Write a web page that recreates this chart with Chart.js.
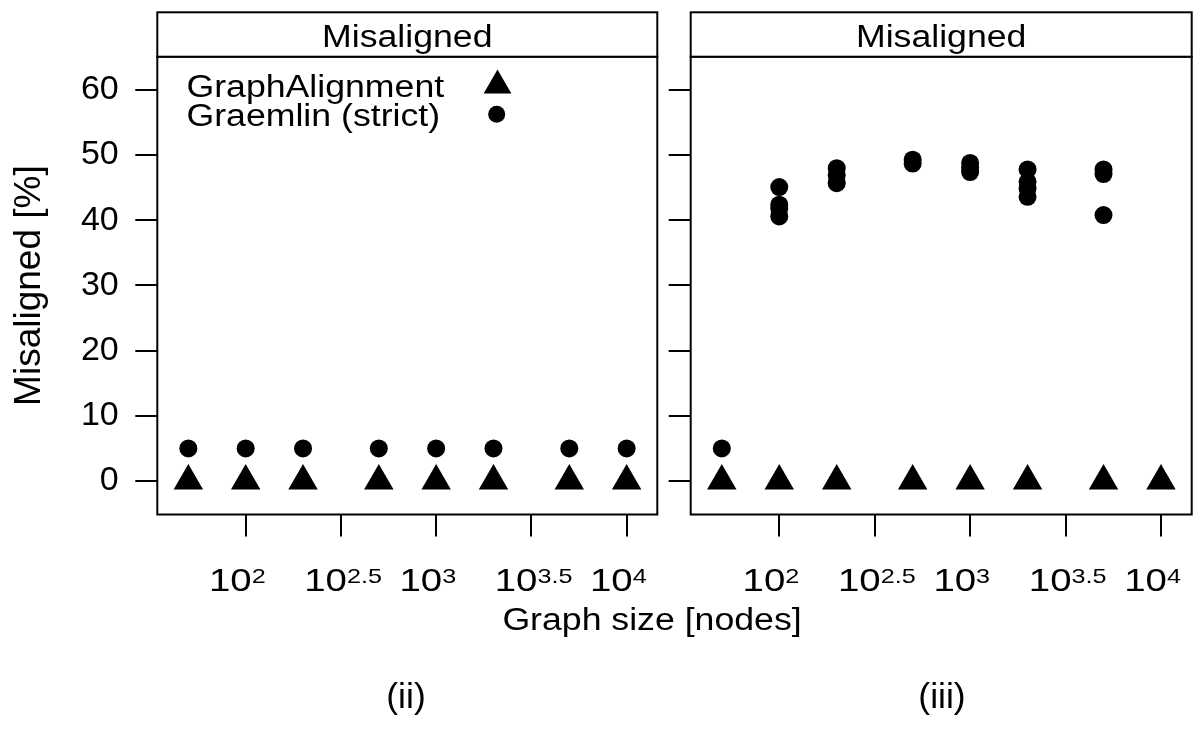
<!DOCTYPE html>
<html>
<head>
<meta charset="utf-8">
<script src="https://cdn.jsdelivr.net/npm/chart.js@4/dist/chart.umd.min.js"></script>
<style>
  body { margin: 0; background: #fff; }
  #wrap { position: relative; width: 1200px; height: 729px; overflow: hidden; font-family: "Liberation Sans", Arial, Helvetica, sans-serif; }
  canvas { position: absolute; top: 0; }
  .lbl { position: absolute; white-space: nowrap; color: #000; line-height: 1; }
  #xTitle { left: 652px; top: 604px; font-size: 31px; transform: translateX(-50%) scaleX(1.15); }
  #capLeft { left: 406px; top: 679px; font-size: 35.5px; transform: translateX(-50%); }
  #capRight { left: 942px; top: 679px; font-size: 35.5px; transform: translateX(-50%); }
</style>
</head>
<body>
<div id="wrap">
  <canvas id="panelLeft" width="665" height="729" style="left:0"></canvas>
  <canvas id="panelRight" width="535" height="729" style="left:665px"></canvas>
  <div class="lbl" id="xTitle">Graph size [nodes]</div>
  <div class="lbl" id="capLeft">(ii)</div>
  <div class="lbl" id="capRight">(iii)</div>
</div>
<script>
var family = '"Liberation Sans", Arial, Helvetica, sans-serif';

// graph sizes [nodes]
var sizes = [50, 100, 200, 500, 1000, 2000, 5000, 10000];

// panel (ii)
var leftGraphAlignment = [0, 0, 0, 0, 0, 0, 0, 0];
var leftGraemlin = [5, 5, 5, 5, 5, 5, 5, 5];

// panel (iii)
var rightGraphAlignment = [0, 0, 0, 0, 0, 0, 0, 0];
var rightGraemlinSizes = [50, 100, 100, 100, 100, 200, 200, 200, 500, 500,
  1000, 1000, 1000, 2000, 2000, 2000, 2000, 5000, 5000, 5000];
var rightGraemlin = [5, 45.1, 42.4, 41.8, 40.6, 48.0, 46.9, 45.7, 49.3, 48.7,
  48.8, 48.1, 47.4, 47.8, 45.9, 44.9, 43.6, 47.8, 47.1, 40.8];

var seriesNames = ["GraphAlignment", "Graemlin (strict)"];
var stripLabel = "Misaligned";
var yTitle = "Misaligned [%]";
var yTicks = [0, 10, 20, 30, 40, 50, 60];
var xTickExponents = [2, 2.5, 3, 3.5, 4];

function pts(xs, ys) {
  return xs.map(function (x, i) { return { x: x, y: ys[i] }; });
}

function triangles(xs, ys) {
  return {
    label: seriesNames[0],
    data: pts(xs, ys),
    pointStyle: "triangle",
    pointRadius: 17,
    pointHoverRadius: 17,
    pointBackgroundColor: "#000",
    pointBorderColor: "#000",
    pointBorderWidth: 0,
  };
}

function circles(xs, ys) {
  return {
    label: seriesNames[1],
    data: pts(xs, ys),
    pointStyle: "circle",
    pointRadius: 9,
    pointHoverRadius: 9,
    pointBackgroundColor: "#000",
    pointBorderColor: "#000",
    pointBorderWidth: 0,
  };
}

function xScale() {
  return {
    type: "logarithmic",
    min: Math.pow(10, 1.536),
    max: Math.pow(10, 4.161),
    bounds: "data",
    afterBuildTicks: function (s) {
      s.ticks = xTickExponents.map(function (e) { return { value: Math.pow(10, e) }; });
    },
    afterFit: function (s) { s.height = 80; },
    ticks: { display: false },
    grid: { drawOnChartArea: false, drawTicks: true, tickLength: 22, lineWidth: 2, color: "#000" },
    border: { display: false },
  };
}

function yScale(withLabels) {
  return {
    type: "linear",
    min: -5.14,
    max: 65.1,
    bounds: "data",
    afterBuildTicks: function (s) {
      s.ticks = yTicks.map(function (v) { return { value: v }; });
    },
    afterFit: function (s) { s.width = withLabels ? 157.3 : 25.7; },
    ticks: { display: withLabels, color: "#000", padding: 16.6, font: { family: family, size: 34 } },
    grid: { drawOnChartArea: false, drawTicks: true, tickLength: 22, lineWidth: 2, color: "#000" },
    border: { display: false },
    title: {
      display: withLabels,
      text: yTitle,
      color: "#000",
      font: { family: family, size: 37 },
      padding: { top: 7.7, bottom: 0 },
    },
  };
}

function stretchedText(ctx, text, x, y, size, sx, align) {
  ctx.save();
  ctx.translate(x, y);
  ctx.scale(sx, 1);
  ctx.font = size + "px " + family;
  ctx.textAlign = align;
  ctx.textBaseline = "alphabetic";
  ctx.fillText(text, 0, 0);
  ctx.restore();
}

// frame, strip, power-of-ten tick labels and the key
var panelDeco = {
  id: "panelDeco",
  afterDraw: function (chart, args, opts) {
    var ctx = chart.ctx;
    var a = chart.chartArea;
    var stripTop = 12.3;
    ctx.save();
    ctx.lineWidth = 2;
    ctx.strokeStyle = "#000";
    ctx.strokeRect(a.left, a.top, a.right - a.left, a.bottom - a.top);
    ctx.fillStyle = "#fff";
    ctx.fillRect(a.left, stripTop, a.right - a.left, a.top - stripTop);
    ctx.strokeRect(a.left, stripTop, a.right - a.left, a.top - stripTop);
    ctx.fillStyle = "#000";
    stretchedText(ctx, stripLabel, (a.left + a.right) / 2, 46.5, 31, 1.15, "center");

    var xs = chart.scales.x;
    xs.ticks.forEach(function (t, i) {
      var px = xs.getPixelForValue(t.value);
      ctx.save();
      ctx.translate(px + 6, 590.5);
      ctx.scale(1.2, 1);
      ctx.textBaseline = "alphabetic";
      ctx.font = "32px " + family;
      ctx.textAlign = "right";
      ctx.fillText("10", 0, 0);
      ctx.font = "21px " + family;
      ctx.textAlign = "left";
      ctx.fillText(String(xTickExponents[i]), 0, -7.8);
      ctx.restore();
    });

    if (opts.legend) {
      stretchedText(ctx, seriesNames[0], 186.5, 96.5, 31, 1.15, "left");
      stretchedText(ctx, seriesNames[1], 186.5, 125.5, 31, 1.15, "left");
      ctx.fillStyle = "#000";
      Chart.helpers.drawPoint(ctx, { pointStyle: "triangle", radius: 16, borderWidth: 0, rotation: 0 }, 497.5, 85.5);
      Chart.helpers.drawPoint(ctx, { pointStyle: "circle", radius: 8.5, borderWidth: 0, rotation: 0 }, 496.7, 114.3);
    }
    ctx.restore();
  },
};

Chart.defaults.font.family = family;

function makePanel(id, datasets, withLabels, padRight) {
  return new Chart(document.getElementById(id).getContext("2d"), {
    type: "scatter",
    data: { datasets: datasets },
    plugins: [panelDeco],
    options: {
      responsive: false,
      animation: false,
      layout: { autoPadding: false, padding: { left: 0, top: 56.7, right: padRight, bottom: 134.5 } },
      scales: { x: xScale(), y: yScale(withLabels) },
      plugins: {
        legend: { display: false },
        tooltip: { enabled: false },
        panelDeco: { legend: withLabels },
      },
    },
  });
}

var leftChart = makePanel("panelLeft", [
  triangles(sizes, leftGraphAlignment),
  circles(sizes, leftGraemlin),
], true, 7.7);

var rightChart = makePanel("panelRight", [
  triangles(sizes, rightGraphAlignment),
  circles(rightGraemlinSizes, rightGraemlin),
], false, 8.3);
</script>
</body>
</html>
